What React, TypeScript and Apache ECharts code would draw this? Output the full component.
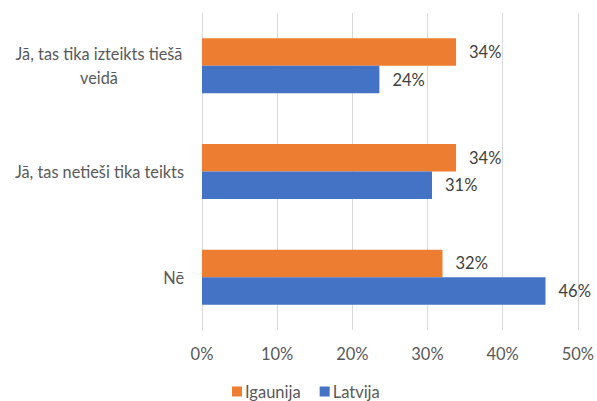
import React, { useEffect, useRef } from "react";
import * as echarts from "echarts";

const categories = ["Jā, tas tika izteikts tiešā veidā", "Jā, tas netieši tika teikts", "Nē"];
const seriesNames = ["Igaunija", "Latvija"];
const igaunija = [33.8, 33.8, 32.0];
const latvija = [23.6, 30.6, 45.7];
const xTicks = [0, 10, 20, 30, 40, 50];

const FONT = "Lato, 'Open Sans', sans-serif";

export default function App() {
  const ref = useRef<HTMLDivElement>(null);
  useEffect(() => {
    if (!ref.current) return;
    const chart = echarts.init(ref.current, undefined, { renderer: "svg" });
    const labelCfg = {
      show: true,
      position: "right" as const,
      distance: 13,
      color: "#404040",
      fontSize: 16.5,
      fontFamily: FONT,
      formatter: (p: any) => Math.round(p.value) + "%",
    };
    chart.setOption({
      animation: false,
      textStyle: { fontFamily: FONT },
      grid: { left: 202, right: 16, top: 13, bottom: 71, containLabel: false },
      legend: {
        data: seriesNames,
        top: 383,
        padding: 0,
        left: 232,
        itemWidth: 10,
        itemHeight: 10,
        itemGap: 19,
        icon: "rect",
        textStyle: { color: "#595959", fontSize: 16.5, fontFamily: FONT, padding: [0, 0, 0, -2] },
      },
      xAxis: {
        type: "value",
        min: xTicks[0],
        max: xTicks[xTicks.length - 1],
        interval: 10,
        axisLine: { show: false },
        axisTick: { show: false },
        splitLine: { show: true, lineStyle: { color: "#d9d9d9", width: 1 } },
        axisLabel: {
          color: "#595959",
          fontSize: 16.5,
          fontFamily: FONT,
          margin: 15,
          formatter: (v: number) => v + "%",
        },
      },
      yAxis: {
        type: "category",
        data: categories,
        inverse: true,
        axisLine: { show: true, lineStyle: { color: "#d9d9d9" } },
        axisTick: { show: false },
        axisLabel: {
          color: "#595959",
          fontSize: 16.3,
          fontFamily: FONT,
          margin: 18,
          align: "right",
          formatter: (v: string) => {
            if (v === categories[0]) {
              return "{a|Jā, tas tika izteikts tiešā}\n{a|veidā}";
            }
            return v;
          },
          rich: {
            a: { width: 170, align: "center", color: "#595959", fontSize: 16.3, fontFamily: FONT, lineHeight: 24 },
          },
        },
      },
      series: [
        {
          name: seriesNames[0],
          type: "bar",
          data: igaunija,
          itemStyle: { color: "#ed7d31" },
          barGap: "0%",
          barCategoryGap: "48%",
          label: labelCfg,
        },
        {
          name: seriesNames[1],
          type: "bar",
          data: latvija,
          itemStyle: { color: "#4472c4" },
          barGap: "0%",
          barCategoryGap: "48%",
          label: labelCfg,
        },
      ],
    });
    return () => chart.dispose();
  }, []);
  return (
    <div
      ref={ref}
      style={{ position: "absolute", left: 0, top: 0, width: 597, height: 401 }}
    />
  );
}
